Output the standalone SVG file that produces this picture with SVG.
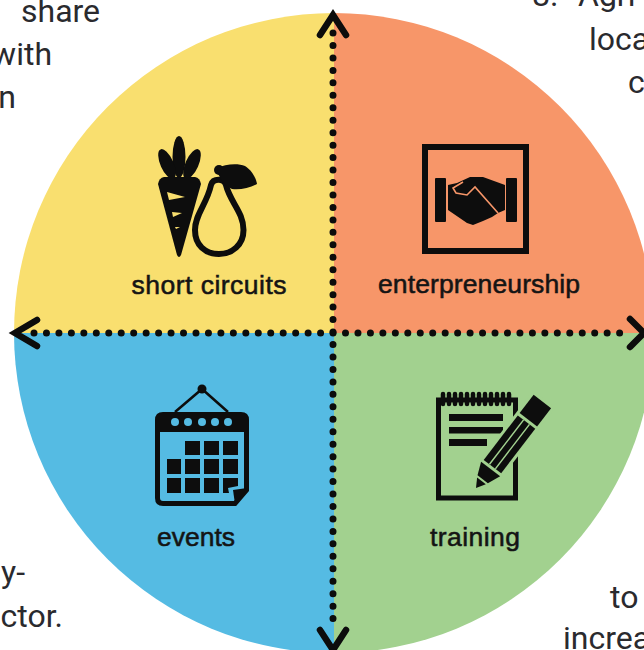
<svg xmlns="http://www.w3.org/2000/svg" width="644" height="650" viewBox="0 0 644 650">
<style>
.body{font-family:Roboto,"Liberation Sans",sans-serif;font-size:32px;fill:#2a2a2e}
.label{font-family:"Liberation Sans",Arimo,sans-serif;font-size:26.5px;fill:#141414;stroke:#141414;stroke-width:.55px;text-anchor:middle}
.dots{fill:none;stroke:#0c0c0c;stroke-width:7;stroke-linecap:round}
.head{fill:none;stroke:#0c0c0c;stroke-width:6.500;stroke-linecap:round;stroke-linejoin:miter}
.ink{fill:#0d0d0d}
.line{fill:none;stroke:#0d0d0d}
</style>
<rect width="644" height="650" fill="#fff"/>
<g id="surrounding-text">
<text class="body" x="21" y="22">share</text>
<text class="body" x="52" y="65" text-anchor="end">with</text>
<text class="body" x="16" y="108" text-anchor="end">n</text>
<text class="body" x="25" y="583" text-anchor="end">y-</text>
<text class="body" x="63" y="627" text-anchor="end">ctor.</text>
<text class="body" x="532" y="6">8.</text>
<text class="body" x="578" y="6">Agri</text>
<text class="body" x="589" y="50">loca</text>
<text class="body" x="628" y="93">c</text>
<text class="body" x="610" y="608">to</text>
<text class="body" x="563" y="649">increa</text>
</g>
<g id="wheel">
<path d="M334 333V13A320 320 0 0 0 14 333Z" fill="#f9df6f"/>
<path d="M334 333V13A320 320 0 0 1 654 333Z" fill="#f79669"/>
<path d="M334 333H14A320 320 0 0 0 334 653Z" fill="#55bbe3"/>
<path d="M334 333H654A320 320 0 0 1 334 653Z" fill="#a2d18f"/>
</g>
<g id="connectors">
<line class="dots" x1="34" y1="333" x2="632" y2="333" stroke-dasharray="0 12.46"/>
<line class="dots" x1="333" y1="33" x2="333" y2="631" stroke-dasharray="0 12.46"/>
<polyline class="head" points="37,320 15,333 37,346"/>
<polyline class="head" points="630,319 644,333 630,347"/>
<polyline class="head" points="320,35 333,15 346,35"/>
<polyline class="head" points="320,630 333,650 346,630"/>
</g>
<g id="short-circuits">
<ellipse class="ink" cx="179" cy="157" rx="6.500" ry="21"/>
<ellipse class="ink" cx="167" cy="164" rx="6.500" ry="16" transform="rotate(-24 167 164)"/>
<ellipse class="ink" cx="192" cy="164" rx="6.500" ry="16" transform="rotate(24 192 164)"/>
<path class="ink" d="M158 184Q159 178 164 177H195Q200 178 201 184L181 255Q179 259 177 255Z"/>
<path d="M167 192L185 197L169 200ZM172 212L182 213L173 217ZM175 227L180 227L176 229Z" fill="#f9df6f"/>
<path class="line" stroke-width="6" d="M226 185C230 202 243.500 212 243.500 230C243.500 245 232 254 219 254C205 254 195 245 195 230C195 214 207 204 211 185C213 178 224 178 226 185Z"/>
<circle class="ink" cx="219" cy="170" r="5"/>
<path class="ink" d="M217 168C225 164 238 163 245 166C251 170 256 177 257 184C250 188 240 190 232 189C224 186 218 177 217 168Z"/>
<text class="label" x="209" y="294" textLength="155" lengthAdjust="spacing">short circuits</text>
</g>
<g id="enterpreneurship">
<rect class="line" x="425" y="147" width="101" height="104" stroke-width="6"/>
<rect class="ink" x="435" y="178" width="11" height="44" rx="1"/>
<rect class="ink" x="506" y="178" width="11" height="44" rx="1"/>
<path class="ink" d="M448 185L457 183L470 177H483L505 185V210L498 213L492 217L483 221L473 225L467 223L448 210Z"/>
<path d="M463 182L453 188L456 193L467 195L475 187L498 213" fill="none" stroke="#f79669" stroke-width="1.600"/>
<text class="label" x="479" y="293" textLength="202" lengthAdjust="spacing">enterpreneurship</text>
</g>
<g id="events">
<path d="M175 412L202 389L228 412" fill="none" stroke="#0d0d0d" stroke-width="2.500"/>
<circle class="ink" cx="202" cy="389" r="4.500"/>
<path class="ink" d="M163 412H241Q249 412 249 420V432H155V420Q155 412 163 412Z"/>
<path d="M157.500 430V498Q157.500 503.500 163 503.500H235L246.500 490V430" fill="none" stroke="#0d0d0d" stroke-width="5"/>
<g fill="#55bbe3"><circle cx="175" cy="422" r="4"/><circle cx="188" cy="422" r="4"/><circle cx="202" cy="422" r="4"/><circle cx="215" cy="422" r="4"/><circle cx="228" cy="422" r="4"/></g>
<g class="ink">
<rect x="185" y="441" width="15" height="14"/><rect x="204" y="441" width="15" height="14"/><rect x="223" y="441" width="15" height="14"/>
<rect x="167" y="459" width="14" height="15"/><rect x="185" y="459" width="15" height="15"/><rect x="204" y="459" width="15" height="15"/><rect x="223" y="459" width="15" height="15"/>
<rect x="167" y="478" width="14" height="15"/><rect x="185" y="478" width="15" height="15"/><rect x="204" y="478" width="15" height="15"/>
<path d="M223 478H238V486L228 488L229 493H223Z"/>
<path d="M233 490L247 488L235 504Z"/>
</g>
<text class="label" x="196" y="546" textLength="78" lengthAdjust="spacing">events</text>
</g>
<g id="training">
<rect class="line" x="438.500" y="400" width="77" height="98" stroke-width="5"/>
<path class="line" stroke-width="4.500" stroke-linecap="round" d="M443 394V404M449 394V404M455 394V404M461 394V404M467 394V404M473 394V404M479 394V404M485 394V404M491 394V404M497 394V404M503 394V404M509 394V404"/>
<rect class="ink" x="449" y="414" width="54" height="7"/>
<rect class="ink" x="449" y="427" width="54" height="6.500"/>
<rect class="ink" x="449" y="439" width="38" height="7"/>
<g transform="translate(476 488) rotate(-52.500)">
<path d="M-4 0L24 -14H112V14H24Z" fill="#a2d18f"/>
<path class="ink" d="M0 0L9 -5.500L9 5.500Z"/>
<path class="ink" d="M11 -6.500L24 -12L24 12L11 6.500Z"/>
<rect class="ink" x="27" y="-11" width="56" height="22"/>
<path d="M27 -3.700H83M27 3.700H83" stroke="#a2d18f" stroke-width="1.500"/>
<rect class="ink" x="86" y="-11" width="23" height="22"/>
</g>
<text class="label" x="475" y="546" textLength="90" lengthAdjust="spacing">training</text>
</g>
</svg>
